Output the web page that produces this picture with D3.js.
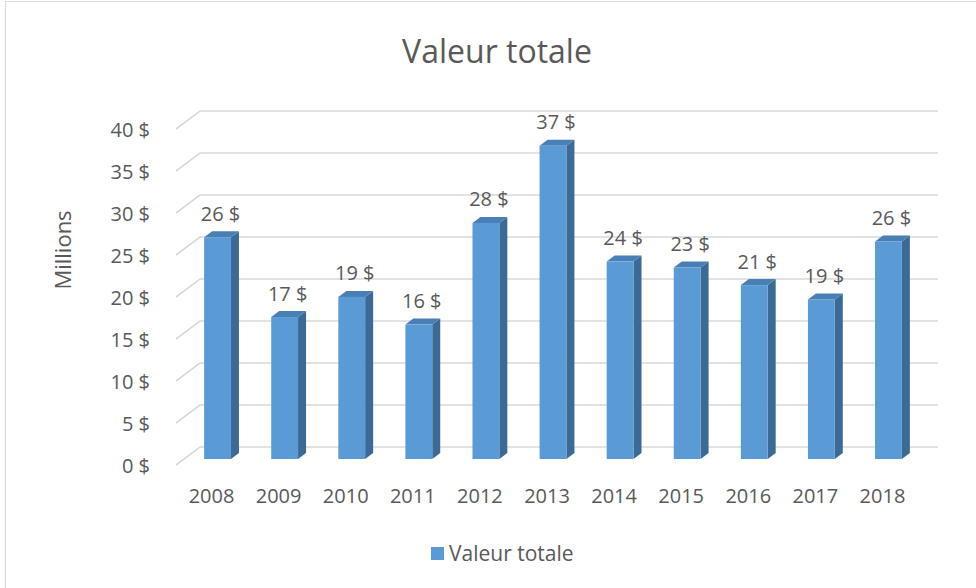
<!DOCTYPE html>
<html>
<head>
<meta charset="utf-8">
<script src="https://cdn.jsdelivr.net/npm/d3@7"></script>
<style>
  body { margin: 0; background: #fff; }
  text { font-family: "Open Sans", sans-serif; fill: #595959; }
</style>
</head>
<body>
<svg id="chart" width="976" height="588"></svg>
<script>
// data
var years = ["2008", "2009", "2010", "2011", "2012", "2013", "2014", "2015", "2016", "2017", "2018"];
var values = [26.4, 16.9, 19.3, 16.0, 28.1, 37.3, 23.5, 22.8, 20.7, 19.0, 25.9];
var yTicks = [0, 5, 10, 15, 20, 25, 30, 35, 40];
var seriesName = "Valeur totale";

var svg = d3.select("#chart");

// chart frame
svg.append("rect")
    .attr("x", 5.5).attr("y", 1.5)
    .attr("width", 1000).attr("height", 620)
    .attr("fill", "none")
    .attr("stroke", "#d9d9d9");

// front plane of the 3d box, back wall is shifted by depth
var depth = {dx: 24, dy: -18};
var x = d3.scaleBand()
    .domain(years)
    .range([176, 914])
    .paddingInner(0.6)
    .paddingOuter(0.3);
var y = d3.scaleLinear()
    .domain([0, 40])
    .range([465, 129]);

// bars sit between 1/3 and 2/3 of the depth
var barOff = {dx: depth.dx / 3, dy: depth.dy / 3};

// gridlines: left wall diagonal + back wall line
var grid = svg.append("g").attr("stroke", "#d9d9d9").attr("stroke-width", 1.6).attr("fill", "none");
grid.selectAll("path")
    .data(yTicks)
    .enter()
    .append("path")
    .attr("d", function(d) {
        var x0 = x.range()[0], x1 = x.range()[1];
        return "M" + x0 + "," + y(d) +
            "L" + (x0 + depth.dx) + "," + (y(d) + depth.dy) +
            "L" + (x1 + depth.dx) + "," + (y(d) + depth.dy);
    });

// y tick labels
svg.append("g").selectAll("text")
    .data(yTicks)
    .enter()
    .append("text")
    .attr("x", 150)
    .attr("y", function(d) { return y(d); })
    .attr("text-anchor", "end")
    .attr("dominant-baseline", "central")
    .attr("font-size", "20px")
    .text(function(d) { return d + " $"; });

// bars
var bw = x.bandwidth();
var bars = svg.append("g").selectAll("g")
    .data(years.map(function(yr, i) { return {year: yr, value: values[i]}; }))
    .enter()
    .append("g");

bars.each(function(d) {
    var g = d3.select(this);
    var fx = x(d.year) + barOff.dx;
    var top = y(d.value) + barOff.dy;
    var bottom = y(0) + barOff.dy;
    // side
    g.append("path")
        .attr("d", "M" + (fx + bw) + "," + top +
            "L" + (fx + bw + barOff.dx) + "," + (top + barOff.dy) +
            "L" + (fx + bw + barOff.dx) + "," + (bottom + barOff.dy) +
            "L" + (fx + bw) + "," + bottom + "Z")
        .attr("fill", "#3b6a96");
    // top
    g.append("path")
        .attr("d", "M" + fx + "," + top +
            "L" + (fx + barOff.dx) + "," + (top + barOff.dy) +
            "L" + (fx + bw + barOff.dx) + "," + (top + barOff.dy) +
            "L" + (fx + bw) + "," + top + "Z")
        .attr("fill", "#4a7fb6");
    // front
    g.append("rect")
        .attr("x", fx)
        .attr("y", top)
        .attr("width", bw)
        .attr("height", bottom - top)
        .attr("fill", "#5b9bd5");
    // value label
    g.append("text")
        .attr("x", fx + bw / 2 + 3)
        .attr("y", top - 24)
        .attr("text-anchor", "middle")
        .attr("dominant-baseline", "central")
        .attr("font-size", "20px")
        .text(Math.round(d.value) + " $");
});

// x tick labels
svg.append("g").selectAll("text")
    .data(years)
    .enter()
    .append("text")
    .attr("x", function(d) { return x(d) + bw / 2 + 2; })
    .attr("y", 495)
    .attr("text-anchor", "middle")
    .attr("dominant-baseline", "central")
    .attr("font-size", "20px")
    .text(function(d) { return d; });

// title
svg.append("text")
    .attr("x", 497)
    .attr("y", 50)
    .attr("text-anchor", "middle")
    .attr("dominant-baseline", "central")
    .attr("font-size", "32px")
    .text(seriesName);

// y axis title
svg.append("text")
    .attr("transform", "translate(62,250)rotate(-90)")
    .attr("text-anchor", "middle")
    .attr("dominant-baseline", "central")
    .attr("font-size", "22px")
    .text("Millions");

// legend
svg.append("rect")
    .attr("x", 431).attr("y", 547)
    .attr("width", 13).attr("height", 13)
    .attr("fill", "#5b9bd5");
svg.append("text")
    .attr("x", 449)
    .attr("y", 553)
    .attr("dominant-baseline", "central")
    .attr("font-size", "21px")
    .text(seriesName);
</script>
</body>
</html>
